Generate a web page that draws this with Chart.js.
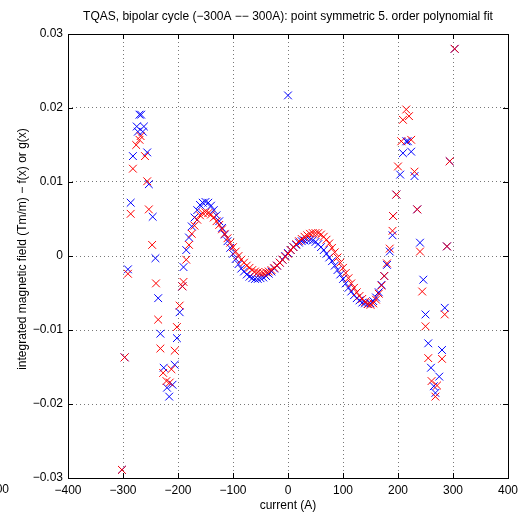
<!DOCTYPE html>
<html>
<head>
<meta charset="utf-8">
<script src="https://cdn.jsdelivr.net/npm/chart.js@4/dist/chart.umd.min.js"></script>
<style>
  html, body { margin: 0; padding: 0; background: #fff; }
  #wrap { width: 518px; height: 514px; }
</style>
</head>
<body>
<div id="wrap"><canvas id="chart-area"></canvas></div>
<script>
// current grid of the dense middle part (A)
const curveX = [-190,-185,-180,-175,-170,-165,-160,-155,-150,-145,-140,-135,-130,-125,-120,-115,-110,-105,-100,-95,
  -90,-85,-80,-75,-70,-65,-60,-55,-50,-45,-40,-35,-30,-25,-20,-15,-10,-5,0,5,
  10,15,20,25,30,35,40,45,50,55,60,65,70,75,80,85,90,95,100,105,
  110,115,120,125,130,135,140,145,150,155,160,165,170,175,180,185,190];

const blueCurveY = [-0.0015,0.0008,0.0025,0.0040,0.0052,0.0062,0.0069,0.0072,0.0073,0.0072,0.0068,0.0062,0.0055,0.0047,0.0038,0.0029,0.0020,0.0011,0.0003,-0.0004,
  -0.0011,-0.0017,-0.0021,-0.0025,-0.0028,-0.0030,-0.0031,-0.0031,-0.0030,-0.0029,-0.0027,-0.0024,-0.0021,-0.0017,-0.0013,-0.0009,-0.0005,0.0000,0.0004,0.0008,
  0.0012,0.0015,0.0018,0.0020,0.0021,0.0022,0.0022,0.0021,0.0019,0.0016,0.0012,0.0008,0.0003,-0.0002,-0.0007,-0.0013,-0.0019,-0.0025,-0.0031,-0.0037,
  -0.0043,-0.0048,-0.0053,-0.0057,-0.0060,-0.0063,-0.0064,-0.0065,-0.0064,-0.0061,-0.0056,-0.0049,-0.0039,-0.0027,-0.0012,0.0006,0.0028];

const redCurveY = [-0.0035,-0.0005,0.0015,0.0030,0.0041,0.0049,0.0055,0.0058,0.0059,0.0058,0.0056,0.0052,0.0047,0.0042,0.0036,0.0030,0.0024,0.0018,0.0012,0.0006,
  0.0000,-0.0005,-0.0009,-0.0013,-0.0016,-0.0019,-0.0021,-0.0022,-0.0023,-0.0023,-0.0022,-0.0021,-0.0019,-0.0016,-0.0013,-0.0009,-0.0005,-0.0001,0.0003,0.0008,
  0.0012,0.0016,0.0020,0.0023,0.0026,0.0028,0.0030,0.0031,0.0031,0.0031,0.0029,0.0026,0.0022,0.0017,0.0011,0.0005,-0.0002,-0.0009,-0.0016,-0.0023,
  -0.0030,-0.0037,-0.0043,-0.0049,-0.0054,-0.0058,-0.0062,-0.0065,-0.0066,-0.0064,-0.0059,-0.0051,-0.0040,-0.0027,-0.0010,0.0010,0.0034];

// scattered points at the ends of the cycle
const blueOutX = [-302,-297,-291,-286,-282,-275,-273,-270,-267,-262,-264,-256,-253,-246,-241,-236,-232,-226,-220,-216,-210,-206,-202,-197,-192,
  0,191,197,204,209,215,218,224,230,235,240,246,250,255,260,265,268,275,280,285,289,294,303];
const blueOutY = [-0.0289,-0.0137,-0.0018,0.0072,0.0135,0.0175,0.0168,0.0191,0.0191,0.0175,0.0168,0.0140,0.0097,0.0053,-0.0003,-0.0057,-0.0105,-0.0151,-0.0178,-0.0190,-0.0174,-0.0147,-0.0111,-0.0076,-0.0041,
  0.0217,0.0054,0.0083,0.0110,0.0139,0.0155,0.0155,0.0141,0.0108,0.0063,0.0018,-0.0032,-0.0079,-0.0118,-0.0151,-0.0176,-0.0185,-0.0163,-0.0127,-0.0070,0.0013,0.0128,0.0280];

const redOutX = [-302,-297,-291,-286,-282,-276,-270,-268,-260,-256,-253,-247,-240,-236,-232,-227,-221,-215,-212,-206,-202,-197,-192,
  191,197,200,206,209,215,220,224,230,235,240,244,250,255,261,268,271,280,285,289,294,303];
const redOutY = [-0.0289,-0.0137,-0.0024,0.0057,0.0118,0.0150,0.0157,0.0162,0.0135,0.0101,0.0063,0.0015,-0.0037,-0.0086,-0.0125,-0.0158,-0.0169,-0.0171,-0.0153,-0.0128,-0.0096,-0.0067,-0.0041,
  0.0054,0.0083,0.0121,0.0155,0.0184,0.0198,0.0189,0.0157,0.0114,0.0063,0.0006,-0.0048,-0.0095,-0.0138,-0.0169,-0.0190,-0.0175,-0.0139,-0.0079,0.0013,0.0128,0.0280];

const xTicks = [-400,-300,-200,-100,0,100,200,300,400];
const yTicks = [-0.03,-0.02,-0.01,0,0.01,0.02,0.03];

const titleText = 'TQAS, bipolar cycle (\u2212300A \u2212\u2212 300A): point symmetric 5. order polynomial fit';
const xLabel = 'current (A)';
const yLabel = 'integrated magnetic field (Tm/m) \u2212 f(x) or g(x)';

function toPoints(xs, ys) {
  return xs.map((x, i) => ({ x: x, y: ys[i] }));
}

const FAMILY = '"Liberation Sans", Arial, Helvetica, sans-serif';
const FONT = '12px ' + FAMILY;

// box, inward ticks and the text around the axes, MATLAB style
const matlabFrame = {
  id: 'matlabFrame',
  afterDraw(chart) {
    const c = chart.ctx;
    const a = chart.chartArea;
    const xs = chart.scales.x, ys = chart.scales.y;
    c.save();
    c.strokeStyle = '#000';
    c.lineWidth = 1;
    c.beginPath();
    xTicks.forEach(v => {
      const px = Math.round(xs.getPixelForValue(v)) + 0.5;
      c.moveTo(px, a.bottom); c.lineTo(px, a.bottom - 5);
      c.moveTo(px, a.top); c.lineTo(px, a.top + 5);
    });
    yTicks.forEach(v => {
      const py = Math.round(ys.getPixelForValue(v)) + 0.5;
      c.moveTo(a.left, py); c.lineTo(a.left + 5, py);
      c.moveTo(a.right, py); c.lineTo(a.right - 5, py);
    });
    c.stroke();
    c.strokeRect(Math.round(a.left) + 0.5, Math.round(a.top) + 0.5,
      Math.round(a.right - a.left), Math.round(a.bottom - a.top));

    c.fillStyle = '#000';
    c.font = FONT;
    c.textAlign = 'center';
    c.textBaseline = 'middle';
    c.fillText(titleText, (a.left + a.right) / 2, 17);
    c.fillText(xLabel, (a.left + a.right) / 2, 506);
    c.textAlign = 'right';
    c.fillText('\u2212500', 9, 490);
    c.translate(23, 249);
    c.rotate(-Math.PI / 2);
    c.textAlign = 'center';
    c.fillText(yLabel, 0, 0);
    c.restore();
  }
};

function fmt(v) {
  const s = Math.abs(v) < 1e-9 ? '0' : String(Math.round(v * 100) / 100);
  return s.replace('-', '\u2212');
}

const ctx = document.getElementById('chart-area').getContext('2d');
const chart = new Chart(ctx, {
  type: 'scatter',
  data: {
    datasets: [
      {
        label: 'g(x)',
        data: toPoints(redOutX, redOutY).concat(toPoints(curveX, redCurveY)),
        pointStyle: 'crossRot',
        pointRadius: 5.5,
        pointBorderWidth: 1,
        borderColor: '#ff0000',
        backgroundColor: '#ff0000'
      },
      {
        label: 'f(x)',
        data: toPoints(blueOutX, blueOutY).concat(toPoints(curveX, blueCurveY)),
        pointStyle: 'crossRot',
        pointRadius: 5.5,
        pointBorderWidth: 1,
        borderColor: '#0000ff',
        backgroundColor: '#0000ff'
      }
    ]
  },
  options: {
    responsive: true,
    maintainAspectRatio: false,
    animation: false,
    layout: { padding: { top: 34, right: 10, left: 0, bottom: 0 } },
    plugins: {
      legend: { display: false },
      title: { display: false },
      tooltip: { enabled: false }
    },
    scales: {
      x: {
        type: 'linear',
        min: -400,
        max: 400,
        afterFit(scale) {
          scale.height = 36;
          scale.paddingLeft = 0;
          scale.paddingRight = 0;
        },
        afterBuildTicks(scale) { scale.ticks = xTicks.map(v => ({ value: v })); },
        ticks: {
          color: '#000',
          font: { family: FAMILY, size: 12 },
          padding: 5,
          maxRotation: 0,
          callback: v => fmt(v)
        },
        grid: { color: '#777', drawTicks: false, tickLength: 0 },
        border: { display: false, dash: [1, 3] }
      },
      y: {
        type: 'linear',
        min: -0.03,
        max: 0.03,
        afterFit(scale) {
          scale.width = 68;
          scale.paddingTop = 0;
          scale.paddingBottom = 0;
        },
        afterBuildTicks(scale) { scale.ticks = yTicks.map(v => ({ value: v })); },
        ticks: {
          color: '#000',
          font: { family: FAMILY, size: 12 },
          padding: 5,
          callback: v => fmt(v)
        },
        grid: { color: '#777', drawTicks: false, tickLength: 0 },
        border: { display: false, dash: [1, 3] }
      }
    }
  },
  plugins: [matlabFrame]
});
</script>
</body>
</html>
